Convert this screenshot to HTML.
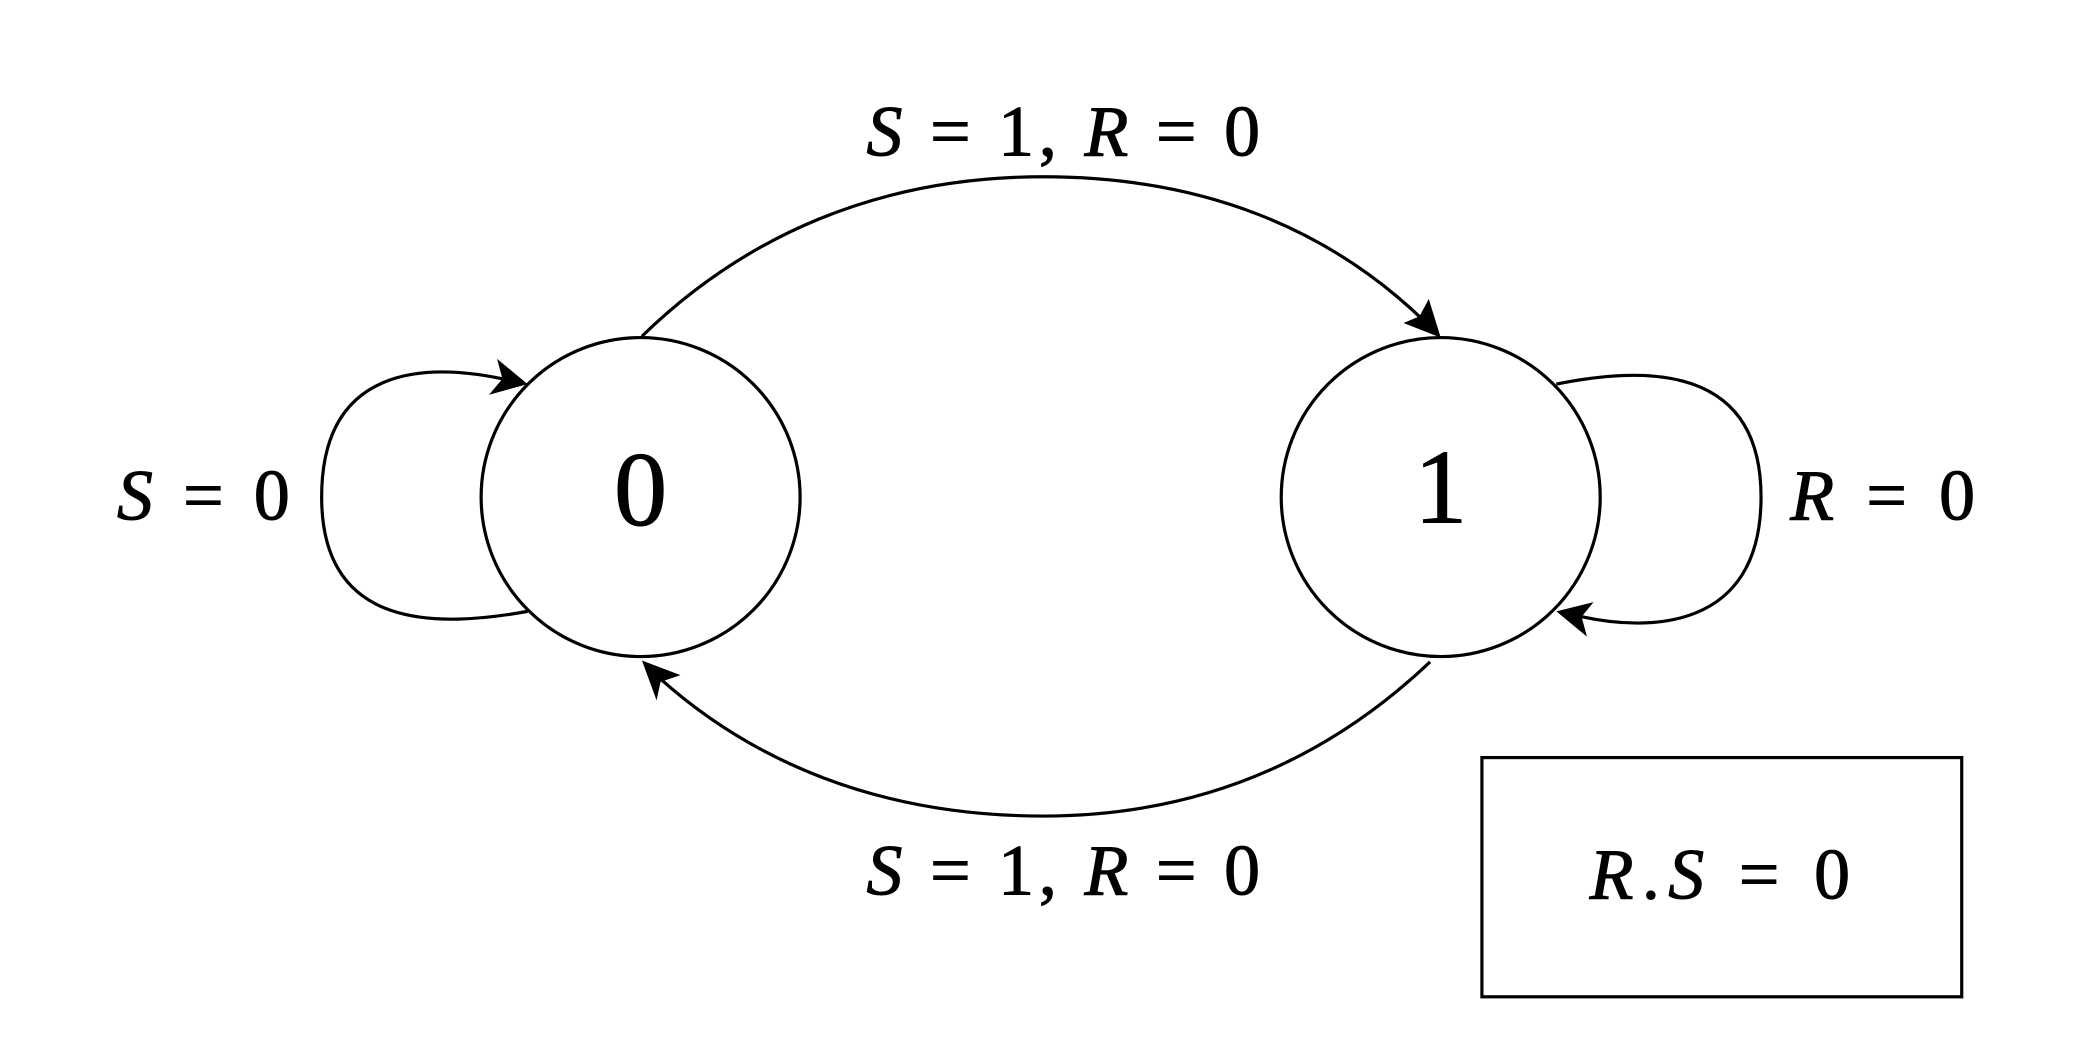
<!DOCTYPE html>
<html><head><meta charset="utf-8"><style>
html,body{margin:0;padding:0;background:#fff;}
svg{display:block;}
text{font-family:"Liberation Serif",serif;fill:#000;}
.v{font-style:italic;}
</style></head><body>
<svg width="2084" height="1040" viewBox="0 0 1568 782.5" preserveAspectRatio="none" xmlns="http://www.w3.org/2000/svg">
<rect width="1568" height="782.5" fill="#fff"/>
<g fill="none" stroke="#000" stroke-width="2.4">
<circle cx="482" cy="374" r="120"/>
<circle cx="1084" cy="374" r="120"/>
<path d="M483,253 C560,178 660,133 785,133 C905,133 1000,172 1072,242"/>
<path d="M1076,498 C1000,570 905,614 785,614 C660,614 565,572 496,510"/>
<path d="M397,460 C330,472 242,475 242,374 C242,275 320,273 378,285"/>
<path d="M1171,289 C1240,275 1325,275 1325,374 C1325,475 1240,475 1190,464"/>
<rect x="1115" y="570" width="361" height="180"/>
</g>
<g fill="#000">
<polygon points="1084,254 1056,243 1068,238 1075,225"/>
<polygon points="483,497 512,508 497,513 494,527"/>
<polygon points="397,289 374,270 378,285 368,297"/>
<polygon points="1171,460 1194,479 1190,464 1199,453"/>
</g>
<g stroke="#000" stroke-width="0.8">
<text x="482" y="395" font-size="80" text-anchor="middle">0</text>
<text x="1084" y="393" font-size="80" text-anchor="middle">1</text>
<text x="652" y="117" font-size="54" textLength="296" lengthAdjust="spacing"><tspan class="v">S</tspan> = 1, <tspan class="v">R</tspan> = 0</text>
<text x="652" y="673" font-size="54" textLength="296" lengthAdjust="spacing"><tspan class="v">S</tspan> = 1, <tspan class="v">R</tspan> = 0</text>
<text x="88" y="391" font-size="54" textLength="130" lengthAdjust="spacing"><tspan class="v">S</tspan> = 0</text>
<text x="1347" y="391" font-size="54" textLength="139" lengthAdjust="spacing"><tspan class="v">R</tspan> = 0</text>
<text x="1196" y="676" font-size="54" textLength="196" lengthAdjust="spacing"><tspan class="v">R</tspan>.<tspan class="v">S</tspan> = 0</text>
</g>
</svg>
</body></html>
